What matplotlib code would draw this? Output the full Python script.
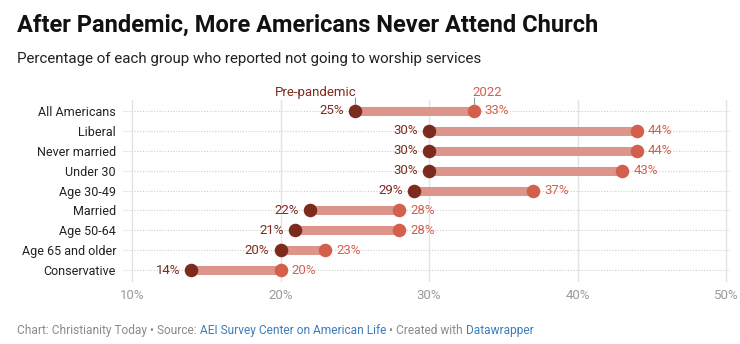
import matplotlib
matplotlib.use("Agg")
import matplotlib.pyplot as plt

plt.rcParams['font.family'] = ['Roboto', 'DejaVu Sans']

# Share of each group who never attend worship services (%)
groups = ['All Americans', 'Liberal', 'Never married', 'Under 30', 'Age 30-49',
          'Married', 'Age 50-64', 'Age 65 and older', 'Conservative']
pre = [25, 30, 30, 30, 29, 22, 21, 20, 14]
after = [33, 44, 44, 43, 37, 28, 28, 23, 20]
xticks = [10, 20, 30, 40, 50]

dark = '#7d2b1e'
coral = '#d2604c'
barc = '#dc948b'

W, H = 740, 344
fig = plt.figure(figsize=(W / 100, H / 100), dpi=100)
ax = fig.add_axes([123 / W, 1 - 282 / H, (730 - 123) / W, (282 - 100) / H])

ys = list(range(len(groups)))
ax.set_xlim(9.39, 50.27)
ax.set_ylim(8.6, -0.55)

# grid
for t in xticks:
    ax.axvline(t, color='#e3e3e3', lw=1, zorder=0)
for y in ys:
    ax.axhline(y, color='#cfcfcf', lw=0.8, ls=(0, (1, 1.5)), zorder=0)

ax.hlines(ys, pre, after, color=barc, lw=6.5, zorder=2)
ax.scatter(pre, ys, s=95, color=dark, zorder=3, linewidths=0)
ax.scatter(after, ys, s=95, color=coral, zorder=3, linewidths=0)

for y, a, b in zip(ys, pre, after):
    ax.text(a - 0.75, y, f'{a}%', ha='right', va='center', fontsize=9.5, color=dark)
    ax.text(b + 0.75, y, f'{b}%', ha='left', va='center', fontsize=9.5, color=coral)

# series labels above the first row, with short leader lines down to the dots
ax.text(pre[0] + 0.1, -0.95, 'Pre-pandemic', ha='right', va='center',
        fontsize=9.5, color=dark, clip_on=False)
ax.text(after[0] - 0.1, -0.95, '2022', ha='left', va='center',
        fontsize=9.5, color=coral, clip_on=False)
ax.vlines([pre[0], after[0]], -0.68, -0.28, color='#999999', lw=0.8,
          zorder=1, clip_on=False)

ax.set_yticks(ys)
ax.set_yticklabels(groups, fontsize=9, color='#222222')
ax.set_xticks(xticks)
ax.set_xticklabels([f'{t}%' for t in xticks], fontsize=9.5, color='#9a9a9a')
ax.tick_params(length=0, axis='y', pad=5)
ax.tick_params(length=0, axis='x', pad=5)
for s in ax.spines.values():
    s.set_visible(False)

fig.text(17 / W, 1 - 32 / H, 'After Pandemic, More Americans Never Attend Church',
         fontsize=17, fontweight='bold', color='#111111', va='baseline')
fig.text(17 / W, 1 - 63 / H, 'Percentage of each group who reported not going to worship services',
         fontsize=10.9, color='#222222', va='baseline')

# footer with source links
foot = [('Chart: Christianity Today • Source: ', '#8a8a8a'),
        ('AEI Survey Center on American Life', '#3a7dbf'),
        (' • Created with ', '#8a8a8a'),
        ('Datawrapper', '#3a7dbf')]
fig.canvas.draw()
r = fig.canvas.get_renderer()
x = 17 / W
for txt, c in foot:
    t = fig.text(x, 1 - 334 / H, txt, fontsize=8.6, color=c, va='baseline')
    bb = t.get_window_extent(renderer=r)
    x += bb.width / W

fig.savefig('out.png', dpi=100, facecolor='white')
